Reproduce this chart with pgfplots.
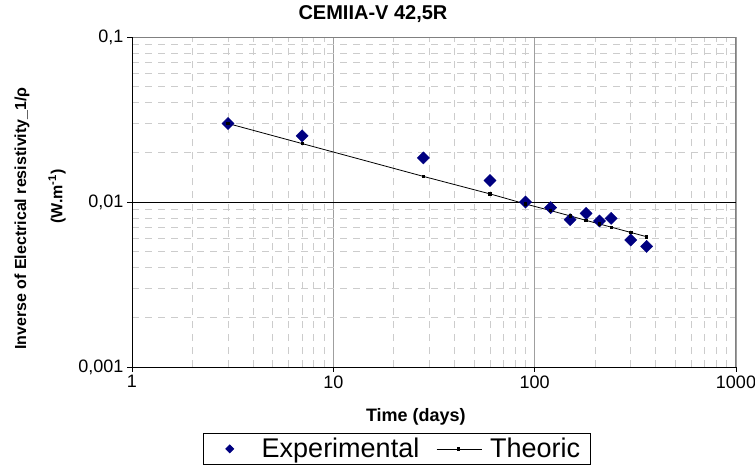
\documentclass[border=0pt]{standalone}
\usepackage{fontspec}
\setmainfont{Liberation Sans}
\usepackage{pgfplots}
\pgfplotsset{compat=1.18}
\definecolor{navyb}{RGB}{0,0,128}
\begin{document}
\begin{tikzpicture}[x=1pt,y=1pt]
\path[use as bounding box] (0,0) rectangle (755,471);
\begin{axis}[
 at={(132pt,104pt)}, anchor=south west,
 scale only axis, width=604pt, height=330pt,
 xmode=log, ymode=log,
 xmin=1, xmax=1000, ymin=0.001, ymax=0.1,
 xtick={1,10,100,1000}, xticklabels={1,10,100,1000},
 ytick={0.001,0.01,0.1}, yticklabels={{0,001},{0,01},{0,1}},
 tick pos=left, tick align=outside, major tick length=5pt, minor tick length=0pt,
 tick style={black, line width=0.9pt},
 grid=both,
 major grid style={draw=gray!75, line width=0.9pt},
 minor grid style={draw=gray!40, dash pattern=on 7pt off 6pt, line width=0.9pt},
 axis line style={draw=gray, line width=1pt},
 ticklabel style={font=\fontsize{18}{18}\selectfont},
 title={CEMIIA-V 42,5R},
 title style={font=\bfseries\fontsize{20}{20}\selectfont, at={(axis description cs:0.399,1.0515)}, anchor=center},
 xlabel={Time (days)},
 xlabel style={font=\bfseries\fontsize{18}{18}\selectfont, at={(axis description cs:0.470,-0.150)}, anchor=center},
 ylabel={Inverse of Electrical resistivity\_1/ρ\\[18pt]\hspace*{44pt}(W.m\textsuperscript{-1})},
 ylabel style={font=\bfseries\fontsize{16}{16}\selectfont, align=center, at={(axis description cs:-0.152,0.45)}, anchor=center},
 legend columns=2,
 legend style={at={(axis description cs:0.1175,-0.2)}, anchor=north west, draw=black, line width=0.8pt,
   inner ysep=3pt, inner xsep=8pt,
   font=\fontsize{27}{27}\selectfont,
   /tikz/column 1/.style={column sep=26pt},
   /tikz/column 2/.style={column sep=15pt},
   /tikz/column 3/.style={column sep=6pt}},
]
\addplot[only marks, mark=square*, mark options={rotate=45, fill=navyb, draw=navyb}, mark size=4.3pt,
  legend image code/.code={\path (-18pt,0pt); \draw[only marks, mark=square*, mark options={rotate=45, fill=navyb, draw=navyb}, mark size=2.8pt] plot coordinates {(0pt,0pt)};}]
 coordinates {(3,0.0299)(7,0.0252)(28,0.0185)(60,0.0135)(90,0.0100)(120,0.00924)(150,0.00781)(180,0.00853)(210,0.00767)(240,0.00796)(300,0.00588)(360,0.00538)};
\addlegendentry{Experimental}
\addplot[black, line width=0.8pt, mark=square*, mark size=1.2pt,
  legend image code/.code={\draw[black, line width=0.8pt, mark=square*, mark size=1.2pt, mark repeat=2, mark phase=2] plot coordinates {(0pt,0pt)(22pt,0pt)(45pt,0pt)};}]
 coordinates {(3,0.0299)(7,0.0226)(28,0.0143)(60,0.0112)(90,0.00973)(120,0.00887)(150,0.00824)(180,0.00774)(210,0.00736)(240,0.00704)(300,0.00654)(360,0.00616)};
\addlegendentry{Theoric}
\draw[black, line width=1pt] (rel axis cs:0,1) -- (rel axis cs:0,0) -- (rel axis cs:1,0);
\draw[black, line width=1pt] (rel axis cs:0,0.5) -- (rel axis cs:1,0.5);
\end{axis}
\end{tikzpicture}
\end{document}
